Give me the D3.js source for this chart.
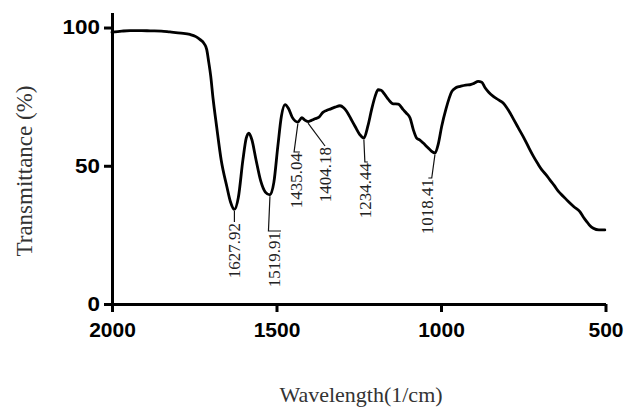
<!DOCTYPE html>
<html>
<head>
<meta charset="utf-8">
<script src="https://cdn.jsdelivr.net/npm/d3@7"></script>
<style>
  html, body { margin: 0; padding: 0; background: #fff; }
  svg { display: block; }
  .tick-label { font-family: "Liberation Sans", Arial, sans-serif; font-weight: bold; fill: #000; }
  .title { font-family: "Liberation Serif", "Times New Roman", serif; fill: #333; }
  .peak-label { font-family: "Liberation Serif", "Times New Roman", serif; fill: #222; font-size: 17px; }
</style>
</head>
<body>
<svg id="chart" width="626" height="408"></svg>
<script>
// FTIR spectrum: wavenumber (1/cm) vs transmittance (%)
const wavenumber = [
  2000, 1970, 1945, 1910, 1884, 1850, 1824, 1790, 1763, 1745,
  1733, 1720, 1712, 1706, 1700, 1693, 1682, 1668, 1651, 1640,
  1627.92, 1616, 1602, 1592, 1584, 1575, 1562, 1548, 1534, 1519.91,
  1508, 1496, 1485, 1474, 1464, 1452, 1435.04, 1423, 1414, 1404.18,
  1394, 1383, 1371, 1359, 1348, 1337, 1322, 1307, 1296, 1287,
  1274, 1261, 1247, 1234.44, 1222, 1211, 1200, 1191, 1182, 1171,
  1160, 1145, 1130, 1115, 1105, 1094, 1084, 1074, 1064, 1054,
  1042, 1030, 1018.41, 1008, 998, 985, 967, 955, 942, 925,
  912, 900, 887, 876, 866, 855, 841, 826, 811, 800,
  790, 778, 765, 745, 732, 719, 706, 694, 681, 669,
  656, 643, 628, 613, 596, 578, 567, 557, 547, 537,
  520, 502
];
const transmittance = [
  98.3, 98.7, 98.9, 98.9, 98.8, 98.7, 98.4, 98.0, 97.5, 96.7,
  95.7, 94.2, 92.0, 87.5, 82.5, 74.5, 64.2, 52.0, 42.5, 37.0,
  34.2, 38.5, 52.2, 60.0, 61.8, 59.5, 52.0, 44.5, 40.5, 39.5,
  44.0, 57.0, 68.0, 72.1, 70.8, 67.5, 65.8, 67.4, 66.5, 66.0,
  66.4, 67.0, 67.6, 69.3, 70.0, 70.5, 71.2, 71.7, 71.0, 69.7,
  67.0, 64.2, 61.3, 60.0, 64.5, 70.3, 75.2, 77.5, 77.3, 75.8,
  74.0, 72.4, 72.3, 70.3, 69.0, 67.3, 63.0, 60.0, 59.3, 58.2,
  56.8, 55.4, 54.6, 58.0, 64.2, 70.5, 76.9, 78.2, 78.7, 79.2,
  79.3, 79.8, 80.5, 80.2, 78.2, 76.6, 75.1, 73.9, 72.7, 71.0,
  69.1, 66.5, 63.7, 59.4, 56.3, 53.4, 50.8, 48.6, 46.8, 44.9,
  42.9, 40.7, 38.9, 37.1, 35.2, 33.4, 31.4, 29.8, 28.3, 27.4,
  26.8, 26.8
];

// Annotated absorption bands
const peakLabels = ["1627.92", "1519.91", "1435.04", "1404.18", "1234.44", "1018.41"];

// Axis ticks and titles
const xTicks = [2000, 1500, 1000, 500];
const yTicks = [0, 50, 100];
const xTitle = "Wavelength(1/cm)";
const yTitle = "Transmittance (%)";

const svg = d3.select("#chart");

const x = d3.scaleLinear().domain([2000, 500]).range([112, 605.5]);
const y = d3.scaleLinear().domain([0, 105.4]).range([304, 12.6]);

const points = wavenumber.map((w, i) => ({ w, t: transmittance[i] }));

// Spectrum trace
const line = d3.line()
  .x(d => x(d.w))
  .y(d => y(d.t))
  .curve(d3.curveMonotoneX);

svg.append("path")
  .datum(points)
  .attr("d", line)
  .attr("fill", "none")
  .attr("stroke", "#000")
  .attr("stroke-width", 2.8)
  .attr("stroke-linejoin", "round")
  .attr("stroke-linecap", "round");

// Axes
const xAxis = d3.axisBottom(x)
  .tickValues(xTicks)
  .tickFormat(d3.format("d"))
  .tickSizeInner(8)
  .tickSizeOuter(0)
  .tickPadding(10);

const yAxis = d3.axisLeft(y)
  .tickValues(yTicks)
  .tickFormat(d3.format("d"))
  .tickSizeInner(8)
  .tickSizeOuter(0)
  .tickPadding(4);

const gx = svg.append("g").attr("transform", "translate(0,304)").call(xAxis);
const gy = svg.append("g").attr("transform", "translate(112,0)").call(yAxis);

[gx, gy].forEach(g => {
  g.select(".domain").attr("stroke", "#000").attr("stroke-width", 3);
  g.selectAll(".tick line").attr("stroke", "#000").attr("stroke-width", 3);
  g.selectAll(".tick text").attr("class", "tick-label").attr("fill", "#000");
});
gx.selectAll(".tick text").style("font-size", "21px");
gy.selectAll(".tick text")
  .style("font-size", "19.5px")
  .each(function () {
    const len = this.getComputedTextLength();
    d3.select(this)
      .attr("textLength", len * 1.15)
      .attr("lengthAdjust", "spacingAndGlyphs");
  });

// Axis titles
svg.append("text")
  .attr("class", "title")
  .attr("x", 361)
  .attr("y", 402)
  .attr("text-anchor", "middle")
  .style("font-size", "22px")
  .text(xTitle);

svg.append("text")
  .attr("class", "title")
  .attr("transform", "translate(24,171) rotate(-90)")
  .attr("text-anchor", "middle")
  .attr("dominant-baseline", "central")
  .style("font-size", "23px")
  .text(yTitle);

// Leader-line layout for each band label (pixel offsets from the band position)
const leaderLayout = [
  { lx: 0,    hx: 0,   dx: 0,   top: 222 },
  { lx: -1.5, hx: 11,  dx: 4.5, top: 231 },
  { lx: -3.8, hx: 2,   dx: -1,  top: 152 },
  { lx: 17,   hx: 17,  dx: 17,  top: 146 },
  { lx: 1,    hx: 4,   dx: 2,   top: 162 },
  { lx: -3.2, hx: -6.6, dx: -7, top: 178 }
];

const annot = svg.append("g");
peakLabels.forEach((lbl, i) => {
  const w = +lbl;
  const idx = wavenumber.indexOf(w);
  const px = x(w);
  const py = y(transmittance[idx]);
  const L = leaderLayout[i];

  const path = d3.path();
  path.moveTo(px, py + 1.5);
  path.lineTo(px + L.lx, L.top);
  path.lineTo(px + L.hx, L.top);
  annot.append("path")
    .attr("d", path.toString())
    .attr("fill", "none")
    .attr("stroke", "#111")
    .attr("stroke-width", 1.2);

  annot.append("text")
    .attr("class", "peak-label")
    .attr("transform", `translate(${px + L.dx},${L.top + 1}) rotate(-90)`)
    .attr("text-anchor", "end")
    .attr("dominant-baseline", "central")
    .text(lbl);
});
</script>
</body>
</html>
